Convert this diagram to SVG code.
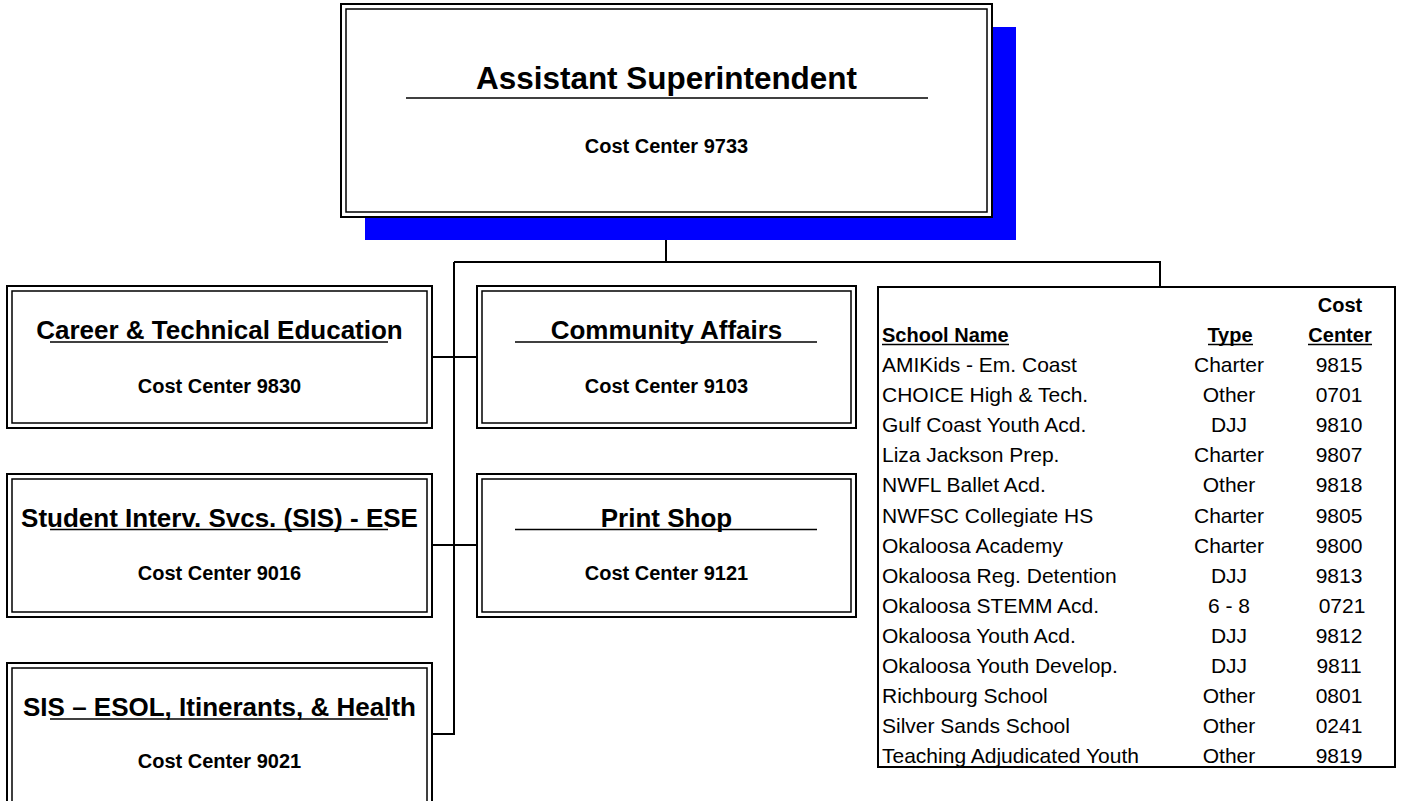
<svg xmlns="http://www.w3.org/2000/svg" width="1401" height="801" viewBox="0 0 1401 801">
<style>
.outer{fill:#fff;stroke:#000;stroke-width:2}
.inner{fill:none;stroke:#000;stroke-width:1.5}
.title{font-family:"Liberation Sans",Arial,sans-serif;font-weight:bold;font-size:26px;text-anchor:middle;fill:#000}
.cc{font-family:"Liberation Sans",Arial,sans-serif;font-weight:bold;font-size:20px;text-anchor:middle;fill:#000}
.ul{stroke:#000;stroke-width:1.6}
.conn{fill:none;stroke:#000;stroke-width:2}
.td{font-family:"Liberation Sans",Arial,sans-serif;font-size:21px;fill:#000}
.th{font-family:"Liberation Sans",Arial,sans-serif;font-size:20px;font-weight:bold;fill:#000}
.mid{text-anchor:middle}
</style>
<rect width="1401" height="801" fill="#fff"/>
<g id="connectors">
<path class="conn" d="M666,217 V262 M454,262 H1160 V287 M454,262 V734 H432 M432,357 H477 M432,545 H477"/>
</g>
<g id="assistant-superintendent">
<rect x="365" y="27" width="651" height="213" fill="#0000ff"/>
<rect class="outer" x="341" y="4" width="651" height="213"/>
<rect class="inner" x="346" y="9" width="641" height="203"/>
<text class="title" x="666.5" y="89" style="font-size:30.5px" textLength="381" lengthAdjust="spacingAndGlyphs">Assistant Superintendent</text>
<line class="ul" x1="406" y1="98" x2="928" y2="98"/>
<text class="cc" x="666.5" y="153">Cost Center 9733</text>
</g>
<g id="career-technical">
<rect class="outer" x="7" y="286" width="425" height="142"/>
<rect class="inner" x="12" y="291" width="415" height="132"/>
<text class="title" x="219.5" y="339">Career &amp; Technical Education</text>
<line class="ul" x1="50" y1="342" x2="388" y2="342"/>
<text class="cc" x="219.5" y="393">Cost Center 9830</text>
</g>
<g id="community-affairs">
<rect class="outer" x="477" y="286" width="379" height="142"/>
<rect class="inner" x="482" y="291" width="369" height="132"/>
<text class="title" x="666.5" y="339">Community Affairs</text>
<line class="ul" x1="515" y1="342" x2="817" y2="342"/>
<text class="cc" x="666.5" y="393">Cost Center 9103</text>
</g>
<g id="student-intervention">
<rect class="outer" x="7" y="474" width="425" height="143"/>
<rect class="inner" x="12" y="479" width="415" height="133"/>
<text class="title" x="219.5" y="527">Student Interv. Svcs. (SIS) - ESE</text>
<line class="ul" x1="50" y1="529.5" x2="388" y2="529.5"/>
<text class="cc" x="219.5" y="580">Cost Center 9016</text>
</g>
<g id="print-shop">
<rect class="outer" x="477" y="474" width="379" height="143"/>
<rect class="inner" x="482" y="479" width="369" height="133"/>
<text class="title" x="666.5" y="527">Print Shop</text>
<line class="ul" x1="515" y1="529.5" x2="817" y2="529.5"/>
<text class="cc" x="666.5" y="580">Cost Center 9121</text>
</g>
<g id="sis-esol">
<rect class="outer" x="7" y="663" width="425" height="150"/>
<rect class="inner" x="12" y="668" width="415" height="140"/>
<text class="title" x="219.5" y="716">SIS – ESOL, Itinerants, &amp; Health</text>
<line class="ul" x1="50" y1="719" x2="388" y2="719"/>
<text class="cc" x="219.5" y="768">Cost Center 9021</text>
</g>
<g id="schools-table">
<rect x="878" y="287" width="517" height="480" fill="#fff" stroke="#000" stroke-width="2"/>
<text class="th mid" x="1340" y="312">Cost</text>
<text class="th" x="882" y="342">School Name</text>
<text class="th mid" x="1230" y="342">Type</text>
<text class="th mid" x="1340" y="342">Center</text>
<line class="ul" x1="882" y1="344.5" x2="1009" y2="344.5"/>
<line class="ul" x1="1208" y1="344.5" x2="1253" y2="344.5"/>
<line class="ul" x1="1308" y1="344.5" x2="1372" y2="344.5"/>
<g class="td">
<text x="882" y="372">AMIKids - Em. Coast</text>
<text x="882" y="402">CHOICE High &amp; Tech.</text>
<text x="882" y="432">Gulf Coast Youth Acd.</text>
<text x="882" y="462">Liza Jackson Prep.</text>
<text x="882" y="492">NWFL Ballet Acd.</text>
<text x="882" y="522.5">NWFSC Collegiate HS</text>
<text x="882" y="552.5">Okaloosa Academy</text>
<text x="882" y="582.5">Okaloosa Reg. Detention</text>
<text x="882" y="612.5">Okaloosa STEMM Acd.</text>
<text x="882" y="643">Okaloosa Youth Acd.</text>
<text x="882" y="673">Okaloosa Youth Develop.</text>
<text x="882" y="703">Richbourg School</text>
<text x="882" y="733">Silver Sands School</text>
<text x="882" y="763">Teaching Adjudicated Youth</text>
</g>
<g class="td mid">
<text x="1229" y="372">Charter</text>
<text x="1229" y="402">Other</text>
<text x="1229" y="432">DJJ</text>
<text x="1229" y="462">Charter</text>
<text x="1229" y="492">Other</text>
<text x="1229" y="522.5">Charter</text>
<text x="1229" y="552.5">Charter</text>
<text x="1229" y="582.5">DJJ</text>
<text x="1229" y="612.5">6 - 8</text>
<text x="1229" y="643">DJJ</text>
<text x="1229" y="673">DJJ</text>
<text x="1229" y="703">Other</text>
<text x="1229" y="733">Other</text>
<text x="1229" y="763">Other</text>
<text x="1339" y="372">9815</text>
<text x="1339" y="402">0701</text>
<text x="1339" y="432">9810</text>
<text x="1339" y="462">9807</text>
<text x="1339" y="492">9818</text>
<text x="1339" y="522.5">9805</text>
<text x="1339" y="552.5">9800</text>
<text x="1339" y="582.5">9813</text>
<text x="1342" y="612.5">0721</text>
<text x="1339" y="643">9812</text>
<text x="1339" y="673">9811</text>
<text x="1339" y="703">0801</text>
<text x="1339" y="733">0241</text>
<text x="1339" y="763">9819</text>
</g>
</g>
</svg>
